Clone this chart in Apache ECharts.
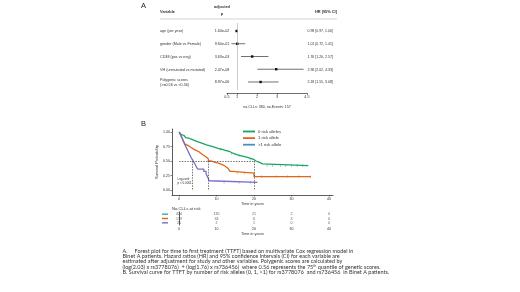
<!DOCTYPE html>
<html>
<head>
<meta charset="utf-8">
<script src="https://cdn.jsdelivr.net/npm/echarts@6/dist/echarts.min.js"></script>
<style>
  html, body { margin: 0; padding: 0; background: #fff; }
  #chart { width: 520px; height: 292px; }
</style>
</head>
<body>
<div id="chart"></div>
<script>
// --- panel A: forest plot ---
const forestVars = ['age (per year)', 'gender (Male vs Female)', 'CD38 (pos vs neg)', 'VH (unmutated vs mutated)', 'Polygenic scores\n(>=0.56 vs <0.56)'];
const forestP = ['1.64e-02', '9.60e-01', '3.63e-03', '2.47e-08', '8.97e-06'];
const forestHR = [0.98, 1.01, 1.76, 2.96, 2.18];
const forestLo = [0.97, 0.72, 1.20, 2.02, 1.55];
const forestHi = [1.00, 1.41, 2.57, 4.33, 3.08];
const forestTicks = [0.5, 1, 2, 3, 4.5];

// --- panel B: KM curves [time, survival] ---
const groups = ['0 risk alleles', '1 risk allele', '>1 risk allele'];
const kmZero = [[0,1],[0.2,0.98],[0.5,0.96],[0.9,0.94],[1.3,0.92],[1.8,0.90],[2.4,0.88],[3.1,0.86],[3.9,0.84],[4.7,0.82],[5.5,0.80],[6.4,0.78],[7.3,0.76],[8.3,0.74],[9.4,0.72],[10.4,0.70],[11.5,0.68],[12.6,0.66],[13.6,0.63],[14.5,0.61],[15.4,0.59],[16.6,0.57],[17.8,0.55],[18.9,0.53],[19.9,0.50],[20.5,0.48],[21.3,0.45],[22.3,0.42],[34.5,0.42]];
const kmOne = [[0,1],[0.3,0.96],[0.6,0.92],[0.9,0.88],[1.2,0.84],[1.6,0.79],[2.0,0.76],[2.6,0.73],[3.3,0.70],[4.0,0.68],[4.7,0.66],[5.3,0.63],[5.9,0.60],[6.5,0.57],[7.2,0.54],[7.8,0.50],[8.6,0.48],[9.4,0.47],[10.2,0.45],[11.0,0.43],[11.8,0.40],[12.5,0.37],[13.1,0.34],[13.6,0.32],[14.2,0.29],[20.0,0.23],[35.2,0.23]];
const kmTwo = [[0,1],[0.3,0.96],[0.6,0.92],[0.9,0.88],[1.1,0.84],[1.4,0.80],[1.7,0.76],[2.0,0.72],[2.3,0.68],[2.6,0.64],[2.9,0.60],[3.2,0.56],[3.6,0.52],[3.9,0.48],[4.3,0.44],[4.6,0.40],[5.0,0.36],[6.6,0.32],[7.2,0.28],[7.5,0.24],[7.8,0.20],[8.0,0.16],[8.3,0.13],[20.9,0.13]];
const censorZero = [11.0, 14.0, 16.0, 19.0, 23.5, 25.0, 27.0, 28.5, 30.0, 31.5, 33.0];
const censorOne = [15.5, 17.5, 22.0, 26.0, 29.0, 32.0, 35.0];
const censorTwo = [12.0, 16.0, 19.0];
const medianTimes = [3.6, 7.9, 20.0];
const timeTicks = [0, 10, 20, 30, 40];
const survTicks = [0, 0.25, 0.5, 0.75, 1];

// --- numbers at risk ---
const riskZero = [424, 135, 21, 2, 0];
const riskOne = [139, 34, 6, 3, 0];
const riskTwo = [25, 2, 1, 0, 0];

const caption = [
  'A.     Forest plot for time to first treatment (TTFT) based on multivariate Cox regression model in',
  'Binet A patients. Hazard ratios (HR) and 95% confidence intervals (CI) for each variable are',
  'estimated after adjustment for study and other variables. Polygenic scores are calculated by',
  '(log(2.03) x rs3778076)  + (log(1.76) x rs736456)  where 0.56 represents the 75{sup|th} quantile of genetic scores.',
  'B. Survival curve for TTFT by number of risk alleles (0, 1, >1) for rs3778076  and rs736456  in Binet A patients.'
];

const colors = ['#19a463', '#e0661c', '#7a6ec4'];
const legendColors = ['#19a463', '#e0661c', '#4a8fc8'];
const barColors = ['#2bb39a', '#e0661c', '#7a6ec4'];
const ff = 'Liberation Sans';
const txt = '#333';

function stepAt(curve, t) {
  let s = curve[0][1];
  curve.forEach(p => { if (p[0] <= t) s = p[1]; });
  return s;
}

const forestData = forestHR.map((hr, i) => [forestLo[i], forestHi[i], hr, i]);
const riskData = [];
[riskZero, riskOne, riskTwo].forEach((arr, g) => {
  arr.forEach((n, k) => riskData.push([timeTicks[k], groups[g], n]));
});

let chart = echarts.init(document.getElementById('chart'));

const kmAxisBase = {
  type: 'value', min: -1.9, max: 41.1,
  axisLine: {onZero: false, lineStyle: {color: '#333', width: 0.8}},
  axisTick: {length: 1.5, customValues: timeTicks, lineStyle: {color: '#333', width: 0.6}},
  axisLabel: {customValues: timeTicks, fontSize: 3.6, margin: 1.5, color: txt, fontFamily: ff},
  splitLine: {show: false},
  name: 'Time in years', nameLocation: 'middle', nameGap: 6.5,
  nameTextStyle: {fontSize: 3.8, color: txt, fontFamily: ff}
};

let option = {
  backgroundColor: '#fff',
  animation: false,
  grid: [
    {left: 227, top: 23, width: 80, height: 67},
    {left: 172, top: 129, width: 161, height: 66},
    {left: 172, top: 212, width: 161, height: 13}
  ],
  xAxis: [
    {
      gridIndex: 0, type: 'value', min: 0.5, max: 4.5, offset: 3,
      axisLine: {onZero: false, lineStyle: {color: '#333', width: 0.7}},
      axisTick: {length: 2, customValues: forestTicks, lineStyle: {color: '#333', width: 0.6}},
      axisLabel: {customValues: forestTicks, fontSize: 3.8, margin: 2, color: txt, fontFamily: ff},
      splitLine: {show: false},
      name: 'no.CLLs: 380, no.Events: 157', nameLocation: 'middle', nameGap: 12,
      nameTextStyle: {fontSize: 3.6, color: txt, fontFamily: ff}
    },
    Object.assign({gridIndex: 1}, kmAxisBase),
    Object.assign({gridIndex: 2}, kmAxisBase)
  ],
  yAxis: [
    {gridIndex: 0, type: 'value', min: -0.63, max: 4.63, inverse: true, show: false},
    {
      gridIndex: 1, type: 'value', min: -0.086, max: 1.052,
      axisLine: {onZero: false, lineStyle: {color: '#333', width: 0.8}},
      axisTick: {length: 1.5, customValues: survTicks, lineStyle: {color: '#333', width: 0.6}},
      axisLabel: {customValues: survTicks, fontSize: 3.6, margin: 2, color: txt, fontFamily: ff,
        formatter: v => v.toFixed(2)},
      splitLine: {show: false},
      name: 'Survival Probability', nameLocation: 'middle', nameGap: 13,
      nameTextStyle: {fontSize: 4, color: txt, fontFamily: ff}
    },
    {
      gridIndex: 2, type: 'category', data: groups, inverse: true,
      axisLine: {lineStyle: {color: '#333', width: 0.8}},
      axisTick: {show: false},
      axisLabel: {
        margin: 4, interval: 0, hideOverlap: false,
        formatter: (v) => '{g' + groups.indexOf(v) + '|}',
        rich: {
          g0: {width: 6, height: 1.4, backgroundColor: barColors[0]},
          g1: {width: 6, height: 1.4, backgroundColor: barColors[1]},
          g2: {width: 6, height: 1.4, backgroundColor: barColors[2]}
        }
      }
    }
  ],
  legend: {
    orient: 'vertical', left: 243, top: 129.5, padding: 0, itemGap: 2.6,
    icon: 'rect', itemWidth: 12, itemHeight: 1.8,
    textStyle: {fontSize: 4.2, color: txt, fontFamily: ff, padding: [0, 0, 0, -2]},
    data: groups.map((g, i) => ({name: g, itemStyle: {color: legendColors[i]}}))
  },
  series: [
    {
      type: 'custom', xAxisIndex: 0, yAxisIndex: 0, clip: false,
      data: forestData,
      encode: {x: [0, 1, 2], y: 3},
      renderItem: function (params, api) {
        const row = api.value(3);
        const lo = api.coord([api.value(0), row]);
        const hi = api.coord([api.value(1), row]);
        const pt = api.coord([api.value(2), row]);
        const xl = api.coord([0.5, row])[0];
        const xr = api.coord([4.5, row])[0];
        const i = params.dataIndex;
        const font = {fontSize: 3.7, fontFamily: ff, fill: txt, verticalAlign: 'middle'};
        return {
          type: 'group',
          children: [
            {type: 'line', shape: {x1: lo[0], y1: lo[1], x2: hi[0], y2: hi[1]}, style: {stroke: '#111', lineWidth: 0.6}},
            {type: 'rect', shape: {x: pt[0] - 1.2, y: pt[1] - 1.2, width: 2.4, height: 2.4}, style: {fill: '#111'}},
            {type: 'text', style: Object.assign({text: forestVars[i], x: xl - 67, y: pt[1] + 0.3, align: 'left', lineHeight: 4.6}, font)},
            {type: 'text', style: Object.assign({text: forestP[i], x: xl - 5, y: pt[1] + 0.3, align: 'center'}, font)},
            {type: 'text', style: Object.assign({text: forestHR[i].toFixed(2) + ' [' + forestLo[i].toFixed(2) + ', ' + forestHi[i].toFixed(2) + ']',
              x: xr + 0.5, y: pt[1] + 0.3, align: 'left'}, font, {fontSize: 3.5})}
          ]
        };
      },
      markLine: {
        silent: true, symbol: 'none', label: {show: false},
        lineStyle: {color: '#aaa', width: 0.6, type: 'solid'},
        data: [{xAxis: 1}]
      }
    },
    {
      name: groups[0], type: 'line', xAxisIndex: 1, yAxisIndex: 1, step: 'end',
      showSymbol: false, data: kmZero, lineStyle: {color: colors[0], width: 1.3}, itemStyle: {color: colors[0]}
    },
    {
      name: groups[1], type: 'line', xAxisIndex: 1, yAxisIndex: 1, step: 'end',
      showSymbol: false, data: kmOne, lineStyle: {color: colors[1], width: 1.3}, itemStyle: {color: colors[1]}
    },
    {
      name: groups[2], type: 'line', xAxisIndex: 1, yAxisIndex: 1, step: 'end',
      showSymbol: false, data: kmTwo, lineStyle: {color: colors[2], width: 1.3}, itemStyle: {color: colors[2]}
    },
    {
      type: 'scatter', xAxisIndex: 1, yAxisIndex: 1, symbol: 'rect', symbolSize: [0.5, 2.6],
      data: censorZero.map(t => [t, stepAt(kmZero, t)]), itemStyle: {color: colors[0]}
    },
    {
      type: 'scatter', xAxisIndex: 1, yAxisIndex: 1, symbol: 'rect', symbolSize: [0.5, 2.6],
      data: censorOne.map(t => [t, stepAt(kmOne, t)]), itemStyle: {color: colors[1]}
    },
    {
      type: 'scatter', xAxisIndex: 1, yAxisIndex: 1, symbol: 'rect', symbolSize: [0.5, 2.6],
      data: censorTwo.map(t => [t, stepAt(kmTwo, t)]), itemStyle: {color: colors[2]}
    },
    {
      type: 'line', xAxisIndex: 1, yAxisIndex: 1, data: [],
      markLine: {
        silent: true, symbol: 'none', label: {show: false},
        lineStyle: {color: '#555', width: 0.8, type: [1.5, 1.2]},
        data: [[{coord: [0, 0.5]}, {coord: [medianTimes[2], 0.5]}]].concat(
          medianTimes.map(t => [{coord: [t, 0.5]}, {coord: [t, 0]}]))
      }
    },
    {
      type: 'scatter', xAxisIndex: 2, yAxisIndex: 2, symbolSize: 0,
      data: riskData,
      label: {show: true, position: 'inside', formatter: p => p.value[2], fontSize: 3.6, color: txt, fontFamily: ff}
    }
  ],
  graphic: [
    {type: 'text', left: 141, top: 2, style: {text: 'A', fontSize: 7.5, fill: '#222', fontFamily: ff}},
    {type: 'text', left: 160, top: 10, style: {text: 'Variable', fontSize: 3.9, fontWeight: 'bold', fill: txt, fontFamily: ff}},
    {type: 'text', x: 222, y: 3, style: {text: 'adjusted\np', fontSize: 3.9, lineHeight: 7, fontWeight: 'bold', fill: txt, fontFamily: ff, align: 'center'}},
    {type: 'text', x: 337, y: 10, style: {text: 'HR [95% CI]', fontSize: 3.9, fontWeight: 'bold', fill: txt, fontFamily: ff, align: 'right'}},
    {type: 'line', shape: {x1: 160, y1: 19, x2: 337, y2: 19}, style: {stroke: '#aaa', lineWidth: 0.5}},
    {type: 'text', left: 141, top: 120, style: {text: 'B', fontSize: 7.5, fill: '#222', fontFamily: ff}},
    {type: 'text', left: 177.5, top: 177.5, style: {text: 'Log-rank\np < 0.0001', fontSize: 3, lineHeight: 3.6, fill: txt, fontFamily: ff}},
    {type: 'text', left: 172, top: 206.5, style: {text: 'No.CLLs at risk', fontSize: 4.2, fill: txt, fontFamily: ff}}
  ].concat(caption.map((line, i) => ({
    type: 'text', left: 122.5, top: 248 + i * 5.35,
    style: {
      text: line, fontSize: 5.5, fill: '#333', fontFamily: 'Lato',
      rich: {sup: {fontSize: 3.2, verticalAlign: 'top', padding: [0, 0, 2, 0], fontFamily: 'Lato', fill: '#333'}}
    }
  })))
};

chart.setOption(option);
</script>
</body>
</html>
